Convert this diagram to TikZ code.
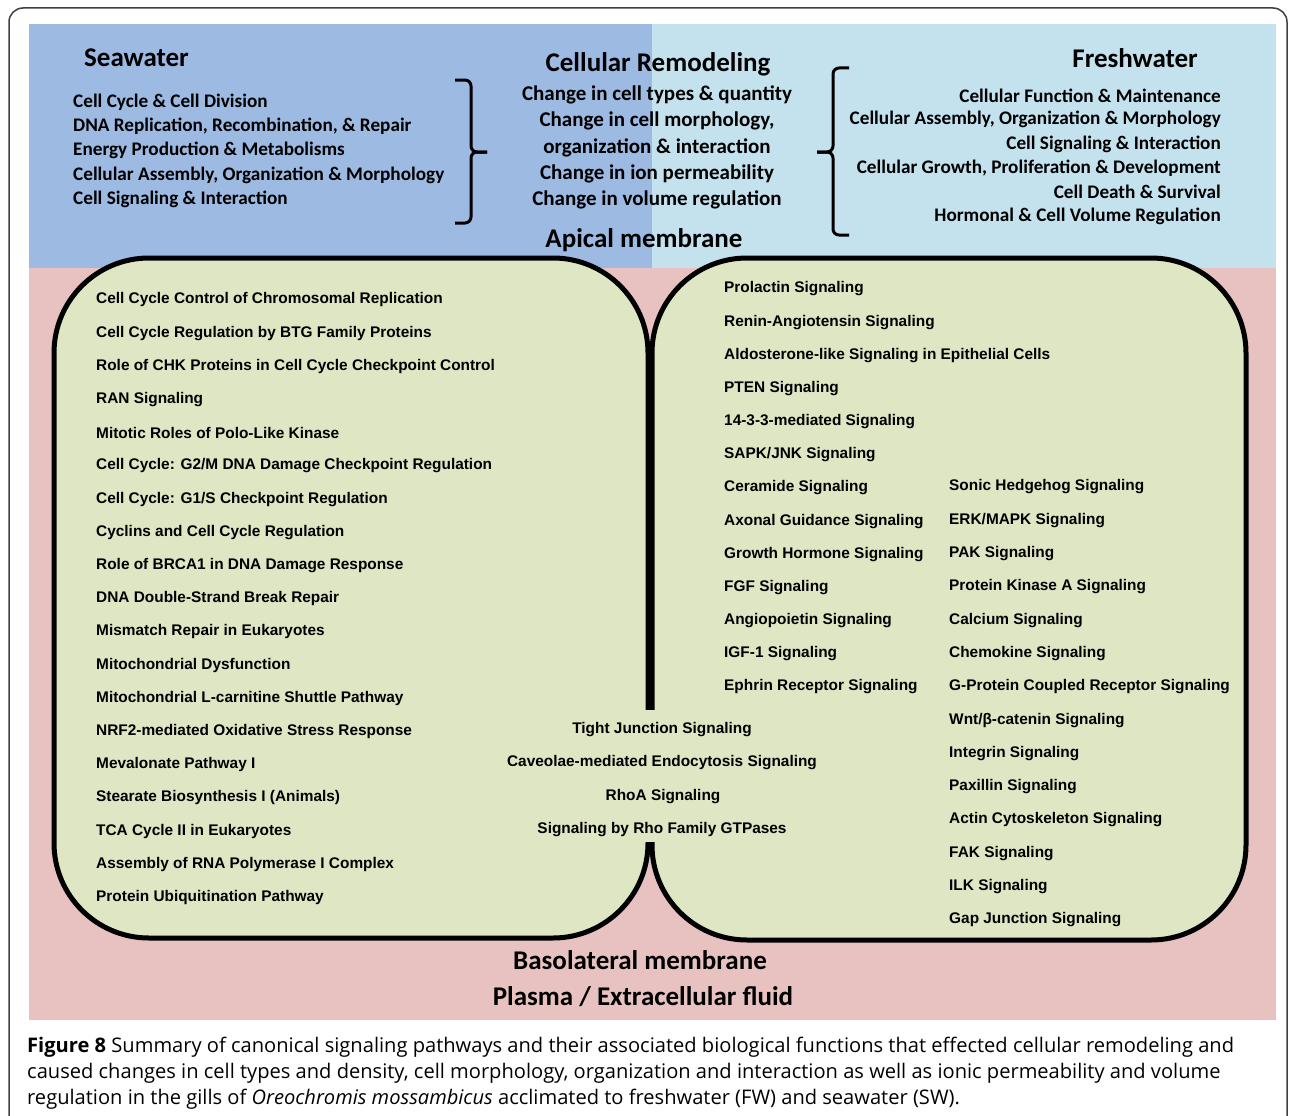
\documentclass[tikz,border=0pt]{standalone}
\usepackage{fontspec}
\setmainfont{Carlito}
\newfontfamily\calib{Carlito}
\newfontfamily\arialf{Liberation Sans}
\newfontfamily\capf{Open Sans}
\definecolor{swblue}{HTML}{9DBAE3}
\definecolor{fwblue}{HTML}{C4E2EE}
\definecolor{pinkbg}{HTML}{E8C1C1}
\definecolor{greenbox}{HTML}{DFE6C4}
\tikzset{
  hd/.style={font=\calib\bfseries\fontsize{27}{31}\selectfont, inner sep=0pt},
  lst/.style={font=\calib\bfseries\fontsize{19.2}{23}\selectfont, inner sep=0pt},
  rem/.style={font=\calib\bfseries\fontsize{21}{24}\selectfont, inner sep=0pt},
  pw/.style={font=\arialf\bfseries\fontsize{15.4}{18}\selectfont, inner sep=0pt, anchor=west},
  pwc/.style={font=\arialf\bfseries\fontsize{15.4}{18}\selectfont, inner sep=0pt},
  greenpanel/.style={draw=black, line width=5pt, fill=greenbox, rounded corners=95pt},
  bracepath/.style={draw=black, line width=3pt, rounded corners=6pt},
  captxt/.style={font=\capf\fontsize{20.1}{24}\selectfont, inner sep=0pt, anchor=west}
}
\begin{document}
\begin{tikzpicture}[x=1pt,y=-1pt]
\useasboundingbox (0,0) rectangle (1290,1116);
\fill[white] (0,0) rectangle (1290,1116);
\draw[line width=1.5pt, black!75, rounded corners=14pt] (9,8) rectangle (1287,1150);
% backgrounds
\fill[swblue] (29,24) rectangle (652,268);
\fill[fwblue] (652,24) rectangle (1276,268);
\fill[pinkbg] (29,268) rectangle (1276,1020);
% panels
\draw[greenpanel] (54,258) rectangle (648,938);
\draw[greenpanel] (652,258) rectangle (1246,940);
\fill[greenbox] (643,710) rectangle (657,842);
% braces
\draw[bracepath] (455,80) -- (471,80) -- (471,152) -- (487,152);
\draw[bracepath] (487,152) -- (471,152) -- (471,223) -- (455,223);
\draw[bracepath] (849,68) -- (833,68) -- (833,152) -- (817,152);
\draw[bracepath] (817,152) -- (833,152) -- (833,235) -- (849,235);
% headings
\node[hd, anchor=west] (sw) at (84,58) {Seawater};
\node[hd, anchor=east] (fw) at (1198,58) {Freshwater};
\node[hd] (cr) at (658,64) {Cellular Remodeling};
\node[hd] (ap) at (644,240) {Apical membrane};
\node[hd] (bl) at (640,960) {Basolateral membrane};
\node[hd] (pl) at (643,997) {Plasma / Extracellular fluid};
% seawater list
\foreach \t [count=\i] in {{Cell Cycle \& Cell Division},{DNA Replication, Recombination, \& Repair},{Energy Production \&  Metabolisms},{Cellular Assembly, Organization \& Morphology},{Cell Signaling \& Interaction}}
  \node[lst, anchor=west] (s\i) at (73,{102+24.3*(\i-1)}) {\t};
% freshwater list
\foreach \t [count=\i] in {{Cellular Function \& Maintenance},{Cellular Assembly, Organization \& Morphology},{Cell Signaling \& Interaction},{Cellular Growth, Proliferation \& Development},{Cell Death \& Survival},{Hormonal \& Cell Volume Regulation}}
  \node[lst, anchor=east] (f\i) at (1221,{95.5+24.2*(\i-1)}) {\t};
% remodeling list
\foreach \t [count=\i] in {{Change in cell types \& quantity},{Change in cell morphology,},{organization \& interaction},{Change in ion permeability},{Change in volume regulation}}
  \node[rem] (r\i) at (657,{95+26.2*(\i-1)}) {\t};
% left panel pathways
\foreach \t [count=\i] in {{Cell Cycle Control of Chromosomal Replication},{Cell Cycle Regulation by BTG Family Proteins},{Role of CHK Proteins in Cell Cycle Checkpoint Control},{RAN Signaling},{Mitotic Roles of Polo-Like Kinase},{Cell Cycle: G2/M DNA Damage Checkpoint Regulation},{Cell Cycle: G1/S Checkpoint Regulation},{Cyclins and Cell Cycle Regulation},{Role of BRCA1 in DNA Damage Response},{DNA Double-Strand Break Repair},{Mismatch Repair in Eukaryotes},{Mitochondrial Dysfunction},{Mitochondrial L-carnitine Shuttle Pathway},{NRF2-mediated Oxidative Stress Response},{Mevalonate Pathway I},{Stearate Biosynthesis I (Animals)},{TCA Cycle II in Eukaryotes},{Assembly of RNA Polymerase I Complex},{Protein Ubiquitination  Pathway}}
  \node[pw] (l\i) at (96,{300+33.2*(\i-1)}) {\t};
% right panel column 1
\foreach \t [count=\i] in {{Prolactin Signaling},{Renin-Angiotensin  Signaling},{Aldosterone-like Signaling  in Epithelial Cells},{PTEN Signaling},{14-3-3-mediated Signaling},{SAPK/JNK Signaling},{Ceramide Signaling},{Axonal Guidance Signaling},{Growth Hormone Signaling},{FGF Signaling},{Angiopoietin  Signaling},{IGF-1 Signaling},{Ephrin Receptor Signaling}}
  \node[pw] (a\i) at (724,{289+33.17*(\i-1)}) {\t};
% right panel column 2
\foreach \t [count=\i] in {{Sonic Hedgehog Signaling},{ERK/MAPK Signaling},{PAK Signaling},{Protein Kinase A Signaling},{Calcium Signaling},{Chemokine Signaling},{G-Protein Coupled Receptor Signaling},{Wnt/β-catenin Signaling},{Integrin Signaling},{Paxillin Signaling},{Actin Cytoskeleton Signaling},{FAK Signaling},{ILK Signaling},{Gap Junction Signaling}}
  \node[pw] (b\i) at (949,{487+33.3*(\i-1)}) {\t};
% shared pathways
\node[pwc] (m1) at (662,730) {Tight Junction Signaling};
\node[pwc] (m2) at (662,763) {Caveolae-mediated Endocytosis Signaling};
\node[pwc] (m3) at (663,797) {RhoA Signaling};
\node[pwc] (m4) at (662,830) {Signaling by  Rho Family GTPases};
% caption
\node[captxt] (c1) at (27,1047) {\textbf{Figure 8} Summary of canonical signaling pathways and their associated biological functions that effected cellular remodeling and};
\node[captxt] (c2) at (27,1073) {caused changes in cell types and density, cell morphology, organization and interaction as well as ionic permeability and volume};
\node[captxt] (c3) at (27,1099) {regulation in the gills of \textit{Oreochromis mossambicus} acclimated to freshwater (FW) and seawater (SW).};
\end{tikzpicture}
\end{document}
